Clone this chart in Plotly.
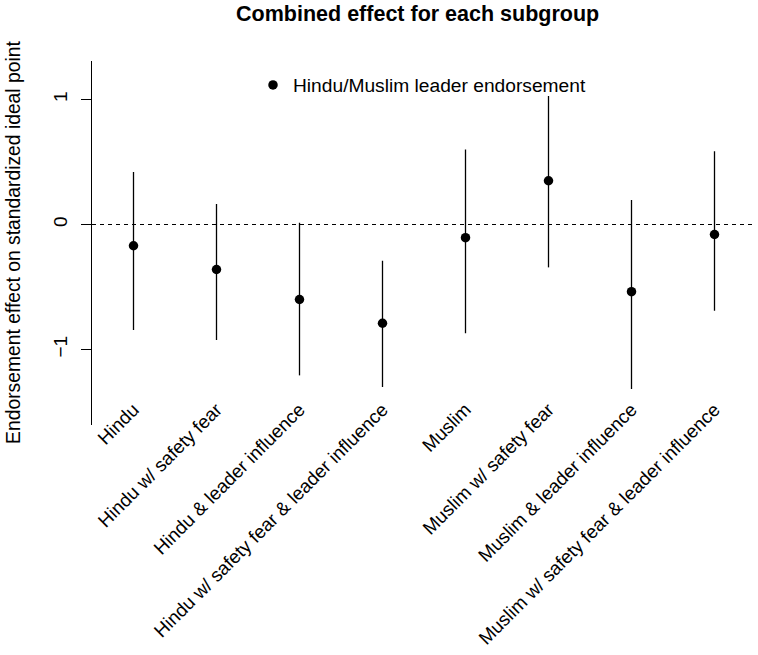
import plotly.graph_objects as go

categories = [
    "Hindu",
    "Hindu w/ safety fear",
    "Hindu & leader influence",
    "Hindu w/ safety fear & leader influence",
    "Muslim",
    "Muslim w/ safety fear",
    "Muslim & leader influence",
    "Muslim w/ safety fear & leader influence",
]
estimate = [-0.17, -0.36, -0.60, -0.79, -0.105, 0.35, -0.537, -0.08]
ci_lower = [-0.844, -0.924, -1.207, -1.30, -0.87, -0.343, -1.316, -0.69]
ci_upper = [0.42, 0.164, 0.014, -0.29, 0.60, 1.028, 0.196, 0.586]
y_ticks = [-1, 0, 1]

FONT = "Liberation Sans, Arial, Helvetica, sans-serif"

err_plus = [u - e for u, e in zip(ci_upper, estimate)]
err_minus = [e - l for e, l in zip(estimate, ci_lower)]

fig = go.Figure()
fig.add_trace(go.Scatter(
    x=categories,
    y=estimate,
    mode="markers",
    name="Hindu/Muslim leader endorsement",
    marker=dict(color="black", size=9.5, symbol="circle"),
    error_y=dict(type="data", symmetric=False, array=err_plus,
                 arrayminus=err_minus, color="black", thickness=1.3, width=0),
))

fig.add_shape(type="line", xref="paper", x0=0, x1=1, yref="y", y0=0, y1=0,
              line=dict(color="black", width=1, dash="4px,4px"))

fig.add_annotation(
    text="Endorsement effect on standardized ideal point",
    xref="paper", yref="paper", x=-0.1175, y=0.503,
    xanchor="center", yanchor="middle", textangle=-90, showarrow=False,
    font=dict(family=FONT, size=19.3, color="black"),
)

fig.update_layout(
    width=758, height=655,
    margin=dict(l=92, r=2, t=61, b=230, pad=0, autoexpand=False),
    paper_bgcolor="white", plot_bgcolor="white",
    font=dict(family=FONT, size=19, color="black"),
    title=dict(text="<b>Combined effect for each subgroup</b>",
               xref="container", yref="container", x=0.551, y=1 - 13.5 / 655,
               xanchor="center", yanchor="middle", automargin=False,
               font=dict(family=FONT, size=21.5, color="black")),
    showlegend=True,
    legend=dict(x=(253 - 92) / 664, y=(425 - 85) / 364, xanchor="left",
                yanchor="middle", bgcolor="rgba(0,0,0,0)",
                font=dict(family=FONT, size=19.2, color="black")),
    xaxis=dict(type="category", range=[-0.5, 7.5], showline=False,
               ticks="", showgrid=False, zeroline=False, tickangle=-45,
               ticklabelstandoff=-31, ticklabelshift=0, automargin=False,
               tickfont=dict(family=FONT, size=18.8, color="black")),
    yaxis=dict(range=[-1.604, 1.308], tickvals=y_ticks, ticks="outside",
               ticklen=10, tickwidth=1, tickcolor="black", showline=True,
               linecolor="black", linewidth=1, showgrid=False,
               zeroline=False, tickangle=-90, ticklabelstandoff=6,
               automargin=False,
               tickfont=dict(family=FONT, size=19, color="black")),
)

fig.write_html("out.html",
               config={"displayModeBar": False},
               post_script="document.body.style.margin='0';")
